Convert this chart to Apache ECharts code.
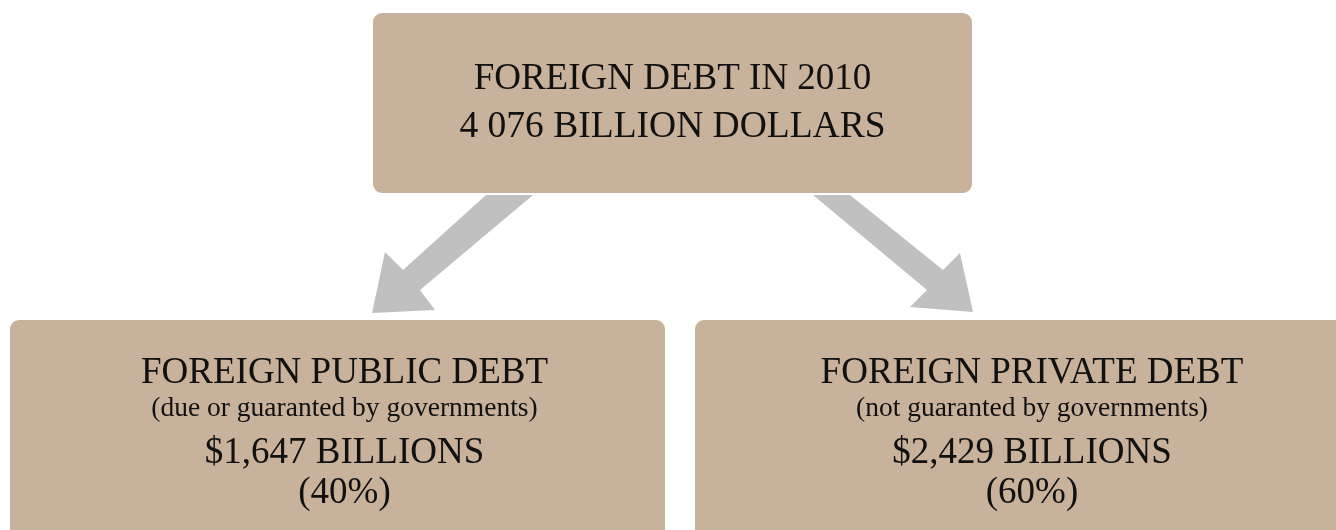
<!DOCTYPE html>
<html>
<head>
<meta charset="utf-8">
<script src="https://cdn.jsdelivr.net/npm/echarts@6/dist/echarts.min.js"></script>
<style>
  html, body { margin: 0; padding: 0; background: #fff; }
  #chart { width: 1336px; height: 530px; }
</style>
</head>
<body>
<div id="chart"></div>
<script>
  // data
  var year = 2010;
  var totalDebt = 4076;              // billion dollars
  var partNames = ['FOREIGN PUBLIC DEBT', 'FOREIGN PRIVATE DEBT'];
  var partNotes = ['(due or guaranted by governments)', '(not guaranted by governments)'];
  var partValues = [1647, 2429];     // billions
  var partShares = [40, 60];         // percent

  var boxColor = '#c9b29b';
  var arrowColor = '#c0c0c0';
  var fontFamily = '"Liberation Serif", "Times New Roman", serif';

  function fmtComma(v) {
    return String(v).replace(/\B(?=(\d{3})+(?!\d))/g, ',');
  }
  function fmtSpace(v) {
    return String(v).replace(/\B(?=(\d{3})+(?!\d))/g, ' ');
  }

  function text(x, y, str, size) {
    return {
      type: 'text',
      style: {
        x: x, y: y, text: str,
        align: 'center', verticalAlign: 'middle',
        font: size + 'px ' + fontFamily,
        fill: '#111'
      }
    };
  }

  // layout of the three boxes
  var topBox = { x: 373, y: 13, w: 599, h: 180 };
  var subBoxes = [
    { x: 10, y: 320, w: 655, h: 240 },
    { x: 695, y: 320, w: 660, h: 240 }
  ];

  var elements = [];

  // arrows (outline of the two grey arrows)
  var arrowLeft = [[486, 195], [533, 195], [420, 290], [435, 310], [372, 313], [385, 252], [403, 270]];
  var arrowRight = [[813, 195], [850, 195], [943, 270], [960, 253], [973, 312], [910, 307], [927, 290]];
  [arrowLeft, arrowRight].forEach(function (pts) {
    elements.push({
      type: 'polygon',
      shape: { points: pts },
      style: { fill: arrowColor }
    });
  });

  // top box
  elements.push({
    type: 'rect',
    shape: { x: topBox.x, y: topBox.y, width: topBox.w, height: topBox.h, r: 9 },
    style: { fill: boxColor }
  });
  var cx = topBox.x + topBox.w / 2;
  elements.push(text(cx, 79, 'FOREIGN DEBT IN ' + year, 37));
  elements.push(text(cx, 127, fmtSpace(totalDebt) + ' BILLION DOLLARS', 37.5));

  // sub boxes
  subBoxes.forEach(function (b, i) {
    elements.push({
      type: 'rect',
      shape: { x: b.x, y: b.y, width: b.w, height: b.h, r: 9 },
      style: { fill: boxColor }
    });
    var bx = b.x + b.w / 2 + 7;
    elements.push(text(bx, 373, partNames[i], 37));
    elements.push(text(bx, 409, partNotes[i], 27.5));
    elements.push(text(bx, 453, '$' + fmtComma(partValues[i]) + ' BILLIONS', 37));
    elements.push(text(bx, 493, '(' + partShares[i] + '%)', 37));
  });

  var chart = echarts.init(document.getElementById('chart'));
  chart.setOption({
    backgroundColor: '#ffffff',
    animation: false,
    graphic: { elements: elements }
  });
</script>
</body>
</html>
